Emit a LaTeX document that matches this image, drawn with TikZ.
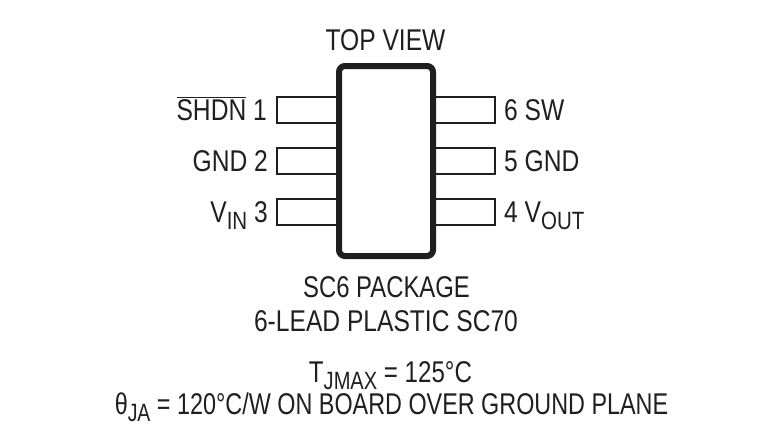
\documentclass[tikz,border=0pt]{standalone}
\usepackage{fontspec}
\setmainfont[FakeStretch=0.82]{Liberation Sans}
\newcommand{\lowsub}[1]{\raisebox{-0.24em}{\fontsize{25}{25}\selectfont #1}}
\tikzset{
  chipbox/.style={draw=black!88,line width=6pt,rounded corners=6pt,fill=white,minimum width=94pt,minimum height=190pt,inner sep=0pt},
  pinbox/.style={draw=black!88,line width=2pt,fill=white,minimum width=60pt,minimum height=26pt,inner sep=0pt},
  lab/.style={font=\fontsize{30}{30}\selectfont,text=black!88,inner sep=0pt}
}
\begin{document}
\begin{tikzpicture}[x=1pt,y=-1pt]
\useasboundingbox (0,0) rectangle (770,437);
\node[pinbox] (p1) at (307,110) {};
\node[pinbox] (p2) at (307,161) {};
\node[pinbox] (p3) at (307,212) {};
\node[pinbox] (p6) at (465,110) {};
\node[pinbox] (p5) at (465,161) {};
\node[pinbox] (p4) at (465,212) {};
\node[chipbox] (chip) at (386,161) {};
\node[lab,anchor=base] (top) at (385.5,50) {TOP VIEW};
\node[lab,anchor=base east] (l1) at (267,120) {$\overline{\hbox{SHDN}}$ 1};
\node[lab,anchor=base east] (l2) at (268,171) {GND 2};
\node[lab,anchor=base east] (l3) at (268,222) {V\lowsub{IN} 3};
\node[lab,anchor=base west] (l6) at (504,120) {6 SW};
\node[lab,anchor=base west] (l5) at (504,171) {5 GND};
\node[lab,anchor=base west] (l4) at (504,222) {4 V\lowsub{OUT}};
\node[lab,anchor=base,xscale=0.97] (t1) at (386.5,297) {SC6 PACKAGE};
\node[lab,anchor=base] (t2) at (386,331) {6-LEAD PLASTIC SC70};
\node[lab,anchor=base,xscale=0.98] (t3) at (390.5,382) {T\lowsub{JMAX} = 125°C};
\node[lab,anchor=base,xscale=0.95] (t4) at (391.5,414) {θ\lowsub{JA} = 120°C/W ON BOARD OVER GROUND PLANE};
\end{tikzpicture}
\end{document}
